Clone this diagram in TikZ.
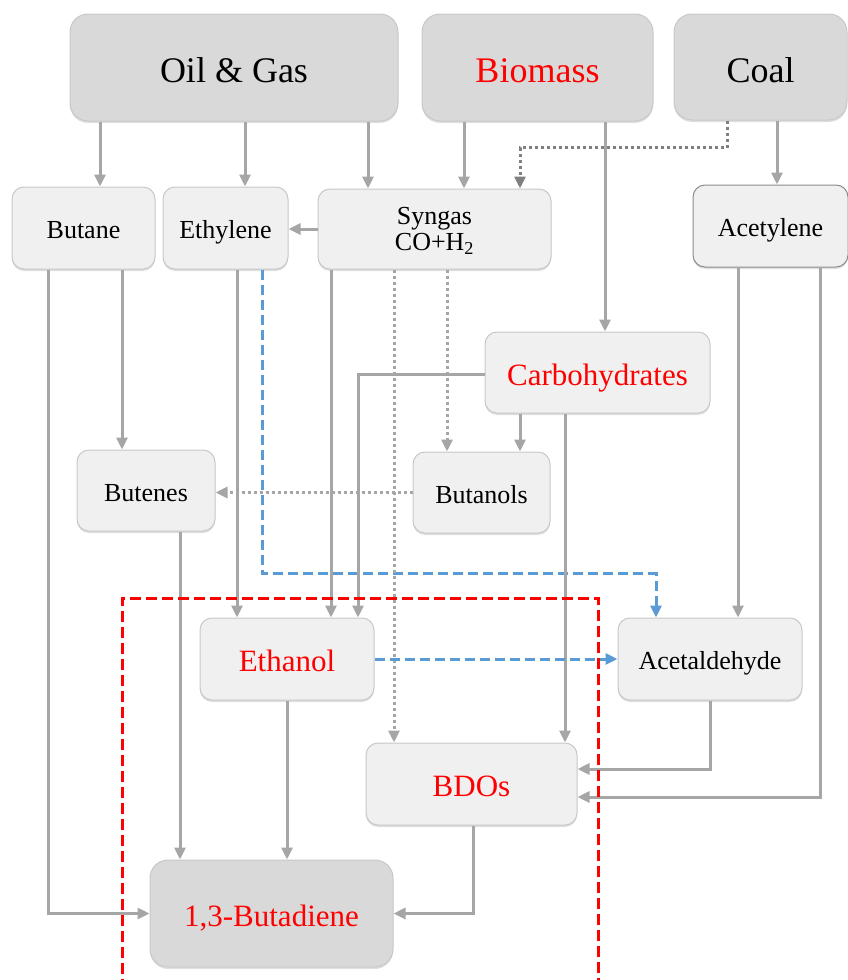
\documentclass[tikz,border=0pt]{standalone}
\usepackage{fontspec}
\setmainfont{Liberation Serif}
\usetikzlibrary{arrows.meta,shadows}

\definecolor{linegray}{RGB}{166,166,166}
\definecolor{dotgray}{RGB}{128,128,128}
\definecolor{pathblue}{RGB}{91,155,213}
\definecolor{boxline}{RGB}{200,200,200}

\tikzset{
  srcbox/.style={draw=boxline, fill=black!15, rounded corners=18pt, line width=1pt,
    inner sep=0pt, text height=30pt, text depth=0pt,
    drop shadow={shadow xshift=0pt, shadow yshift=-2pt, opacity=.25},
    font=\fontsize{36}{40}\selectfont},
  midbox/.style={draw=boxline, fill=black!6, rounded corners=12pt, line width=1pt,
    inner sep=0pt, text height=21pt, text depth=0pt,
    drop shadow={shadow xshift=0pt, shadow yshift=-2pt, opacity=.25},
    font=\fontsize{26}{30}\selectfont},
  keybox/.style={midbox, text=red, text height=25pt, font=\fontsize{31}{34}\selectfont},
  arr/.style={draw=linegray, line width=3pt, -{Triangle[length=12pt,width=11pt]}},
  dotarr/.style={arr, dash pattern=on 3pt off 3pt},
  coalarr/.style={dotarr, draw=dotgray, -{Triangle[length=12pt,width=11pt,fill=dotgray]}},
  bluearr/.style={draw=pathblue, line width=3pt, dash pattern=on 10pt off 5pt,
    -{Triangle[length=12pt,width=11pt,fill=pathblue]}},
}

\begin{document}
\begin{tikzpicture}[x=1pt, y=-1pt]
    \useasboundingbox (0,0) rectangle (848,980);

    % sources
    \node[srcbox, minimum width=328pt, minimum height=107pt] (oil) at (234,67.5) {Oil \& Gas};
    \node[srcbox, minimum width=231pt, minimum height=107pt, text=red] (bio) at (537.5,67.5) {Biomass};
    \node[srcbox, minimum width=173pt, minimum height=106pt] (coal) at (760.5,67) {Coal};

    % intermediates
    \node[midbox, minimum width=143pt, minimum height=82pt] (butane) at (83.5,228) {Butane};
    \node[midbox, minimum width=125pt, minimum height=82pt] (ethylene) at (225.5,228) {Ethylene};
    \node[midbox, minimum width=233pt, minimum height=80pt, align=center,
          text height=, text depth=] (syngas) at (434.5,229)
        {\strut Syngas\\[-4pt]CO+H\textsubscript{2}};
    \node[midbox, draw=black!45, minimum width=155pt, minimum height=82pt] (acetylene) at (770.5,226) {Acetylene};
    \node[keybox, minimum width=225pt, minimum height=81pt] (carbo) at (597.5,372.5) {Carbohydrates};
    \node[midbox, minimum width=138pt, minimum height=81pt] (butenes) at (146,490.5) {Butenes};
    \node[midbox, minimum width=137pt, minimum height=81pt] (butanols) at (481.5,492.5) {Butanols};
    \node[keybox, minimum width=174pt, minimum height=82pt] (ethanol) at (287,659) {Ethanol};
    \node[midbox, minimum width=184pt, minimum height=82pt] (acetal) at (710,659) {Acetaldehyde};
    \node[keybox, minimum width=211pt, minimum height=82pt] (bdo) at (471.5,784) {BDOs};

    % product
    \node[srcbox, minimum width=243pt, minimum height=107pt, text=red, text height=25pt,
          font=\fontsize{31}{34}\selectfont] (bd) at (271.5,913.5) {1,3-Butadiene};

    % from the sources
    \draw[arr] (oil.south -| 100,0) -- (butane.north -| 100,0);
    \draw[arr] (oil.south -| 245,0) -- (ethylene.north -| 245,0);
    \draw[arr] (oil.south -| 368,0) -- (syngas.north -| 368,0);
    \draw[arr] (bio.south -| 464,0) -- (syngas.north -| 464,0);
    \draw[arr] (bio.south -| 605,0) -- (carbo.north -| 605,0);
    \draw[coalarr] (coal.south -| 727,0) -- ++(0,27) -| (syngas.north -| 520,0);
    \draw[arr] (coal.south -| 777,0) -- (acetylene.north -| 777,0);

    % second row
    \draw[arr] (syngas.west) -- (ethylene.east |- syngas.west);
    \draw[arr] (butane.south -| 48,0) |- (bd.west);
    \draw[arr] (butane.south -| 122,0) -- (butenes.north -| 122,0);
    \draw[arr] (ethylene.south -| 237,0) -- (ethanol.north -| 237,0);
    \draw[bluearr] (ethylene.south -| 262,0) -- ++(0,304) -| (acetal.north -| 656,0);
    \draw[arr] (syngas.south -| 331,0) -- (ethanol.north -| 331,0);
    \draw[dotarr] (syngas.south -| 394,0) -- (bdo.north -| 394,0);
    \draw[dotarr] (syngas.south -| 447,0) -- (butanols.north -| 447,0);
    \draw[arr] (acetylene.south -| 738,0) -- (acetal.north -| 738,0);
    \draw[arr] (acetylene.south -| 820,0) |- (bdo.east |- 0,797);

    % carbohydrates and butanols
    \draw[arr] (carbo.west |- 0,374) -| (ethanol.north -| 358,0);
    \draw[arr] (carbo.south -| 520,0) -- (butanols.north -| 520,0);
    \draw[arr] (carbo.south -| 565,0) -- (bdo.north -| 565,0);
    \draw[dotarr] (butanols.west) -- (butenes.east |- butanols.west);

    % towards butadiene
    \draw[arr] (butenes.south -| 180,0) -- (bd.north -| 180,0);
    \draw[arr] (ethanol.south) -- (bd.north -| ethanol.south);
    \draw[bluearr] (ethanol.east) -- (acetal.west);
    \draw[arr] (acetal.south) |- (bdo.east |- 0,769);
    \draw[arr] (bdo.south -| 473,0) |- (bd.east);

    % ethanol route frame
    \draw[red, line width=3pt, dash pattern=on 11pt off 5pt] (122,990) -- (122,598) -- (598,598) -- (598,990);
\end{tikzpicture}
\end{document}
